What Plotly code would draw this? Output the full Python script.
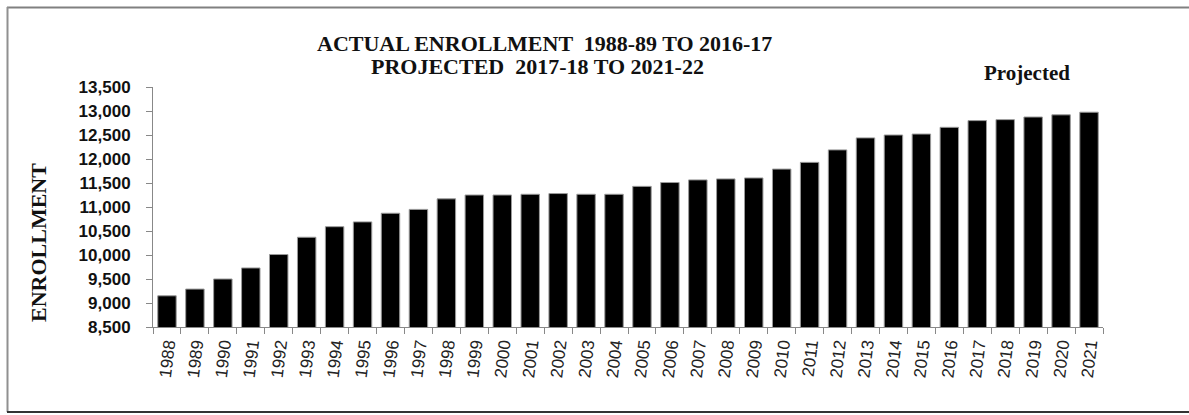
import plotly.graph_objects as go

years = [str(y) for y in range(1988, 2022)]
enrollment = [9150, 9290, 9500, 9730, 10010, 10370, 10590, 10690, 10870, 10950,
              11170, 11250, 11250, 11265, 11280, 11265, 11265, 11430, 11510, 11565,
              11585, 11605, 11790, 11930, 12190, 12440, 12500, 12520, 12660, 12800,
              12820, 12875, 12920, 12975]

title_line1 = "ACTUAL ENROLLMENT  1988-89 TO 2016-17"
title_line2 = "PROJECTED  2017-18 TO 2021-22"
y_title = "ENROLLMENT"
proj_label = "Projected"

W, H = 1189, 415
ML, MR, MT, MB = 153, 86, 87, 88
PW, PH = W - ML - MR, H - MT - MB

def px(x):
    return (x - ML) / PW

def py(y):
    return 1 - (y - MT) / PH

serif = "Liberation Serif, Times New Roman, serif"
sans = "Liberation Sans, Arial, sans-serif"

fig = go.Figure()
fig.add_trace(go.Bar(
    x=years, y=enrollment,
    marker=dict(color="#000000", line=dict(color="#9a9a9a", width=1)),
    hoverinfo="x+y",
))

fig.update_layout(
    width=W, height=H,
    margin=dict(l=ML, r=MR, t=MT, b=MB, autoexpand=False),
    paper_bgcolor="white", plot_bgcolor="white",
    bargap=0.34,
    showlegend=False,
    xaxis=dict(
        type="category",
        tickson="boundaries",
        ticks="outside", ticklen=6, tickcolor="#888888",
        showline=True, linecolor="#888888", linewidth=1,
        showgrid=False,
        tickangle=-83,
        tickfont=dict(family=sans, size=17, color="#222222"),
    ),
    yaxis=dict(
        range=[8500, 13500],
        dtick=500, tick0=8500,
        tickformat=",",
        ticks="outside", ticklen=6, tickcolor="#888888",
        showline=True, linecolor="#888888", linewidth=1,
        showgrid=False, zeroline=False,
        tickfont=dict(family=sans, size=17, color="#111111", weight="bold"),
        ticklabelstandoff=12,
    ),
)

annotations = [
    dict(text="<b>" + title_line1 + "</b>", x=px(544), y=py(43), xref="paper", yref="paper",
         showarrow=False, font=dict(family=serif, size=22, color="#111111"), xanchor="center", yanchor="middle"),
    dict(text="<b>" + title_line2 + "</b>", x=px(537), y=py(66), xref="paper", yref="paper",
         showarrow=False, font=dict(family=serif, size=22, color="#111111"), xanchor="center", yanchor="middle"),
    dict(text="<b>" + proj_label + "</b>", x=px(1027), y=py(73), xref="paper", yref="paper",
         showarrow=False, font=dict(family=serif, size=21, color="#111111"), xanchor="center", yanchor="middle"),
    dict(text="<b>" + y_title + "</b>", x=px(38), y=py(243), xref="paper", yref="paper",
         showarrow=False, textangle=-90, font=dict(family=serif, size=22, color="#111111"),
         xanchor="center", yanchor="middle"),
]
fig.update_layout(annotations=annotations)

shapes = [
    dict(type="line", xref="paper", yref="paper", x0=px(7), x1=px(1200), y0=py(7.5), y1=py(7.5),
         line=dict(color="#808080", width=2)),
    dict(type="line", xref="paper", yref="paper", x0=px(7.5), x1=px(7.5), y0=py(7), y1=py(412),
         line=dict(color="#909090", width=2)),
    dict(type="line", xref="paper", yref="paper", x0=px(7), x1=px(1200), y0=py(412), y1=py(412),
         line=dict(color="#333333", width=2)),
]
fig.update_layout(shapes=shapes)

fig.write_html("out.html", config={"displayModeBar": False},
               post_script="document.body.style.margin='0px';")
